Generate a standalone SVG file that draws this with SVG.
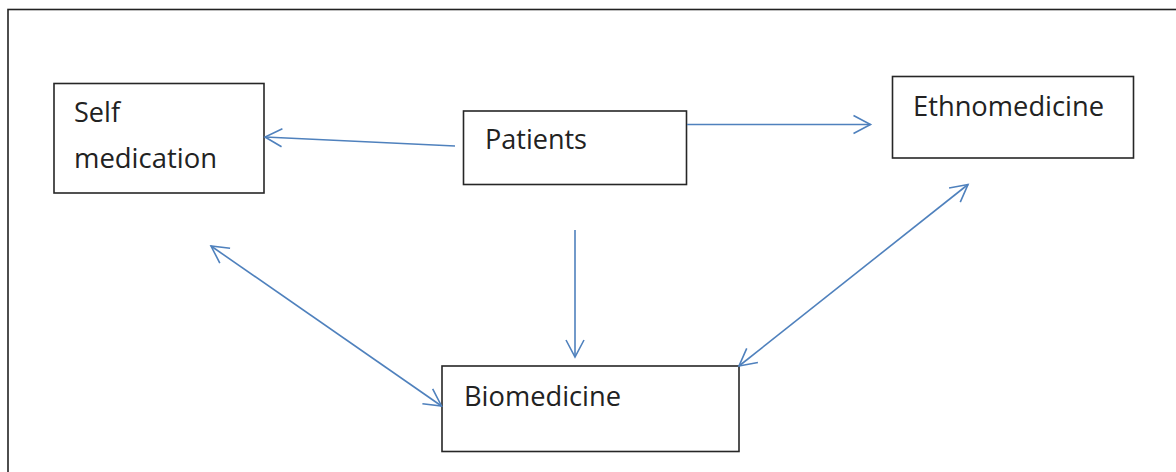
<svg xmlns="http://www.w3.org/2000/svg" width="1176" height="472" viewBox="0 0 1176 472">
<style>
.box{fill:#fff;stroke:#262626;stroke-width:1.6}
.lbl{font-family:"Open Sans","Liberation Sans",sans-serif;font-size:27px;fill:#222}
.con{fill:none;stroke:#4f81bd;stroke-width:1.6}
</style>
<defs>
<marker id="ah" viewBox="-20 -12 24 24" refX="0" refY="0" markerWidth="24" markerHeight="24" markerUnits="userSpaceOnUse" orient="auto-start-reverse">
<path d="M-17,-9 L0,0 L-17,9" fill="none" stroke="#4f81bd" stroke-width="1.6"/>
</marker>
</defs>
<rect x="8" y="9.5" width="1190" height="490" fill="#fff" stroke="#222" stroke-width="1.6"/>
<g id="self-medication">
<rect class="box" x="54" y="83.5" width="210" height="109.5"/>
<text class="lbl" x="74" y="122" textLength="46" lengthAdjust="spacingAndGlyphs">Self</text>
<text class="lbl" x="74" y="168" textLength="143" lengthAdjust="spacingAndGlyphs">medication</text>
</g>
<g id="patients">
<rect class="box" x="463.5" y="111" width="223" height="73.5"/>
<text class="lbl" x="485" y="149" textLength="102" lengthAdjust="spacingAndGlyphs">Patients</text>
</g>
<g id="ethnomedicine">
<rect class="box" x="892.5" y="76.5" width="241" height="81.5"/>
<text class="lbl" x="913" y="116" textLength="191" lengthAdjust="spacingAndGlyphs">Ethnomedicine</text>
</g>
<g id="biomedicine">
<rect class="box" x="442" y="366" width="297" height="85.5"/>
<text class="lbl" x="464" y="406" textLength="157" lengthAdjust="spacingAndGlyphs">Biomedicine</text>
</g>
<g id="connectors">
<line class="con" x1="455" y1="146" x2="265" y2="137" marker-end="url(#ah)"/>
<line class="con" x1="687" y1="124.5" x2="870.5" y2="124.5" marker-end="url(#ah)"/>
<line class="con" x1="575" y1="230" x2="575" y2="357" marker-end="url(#ah)"/>
<line class="con" x1="211" y1="246" x2="441.5" y2="406" marker-start="url(#ah)" marker-end="url(#ah)"/>
<line class="con" x1="739" y1="366" x2="968" y2="184.5" marker-start="url(#ah)" marker-end="url(#ah)"/>
</g>
</svg>
